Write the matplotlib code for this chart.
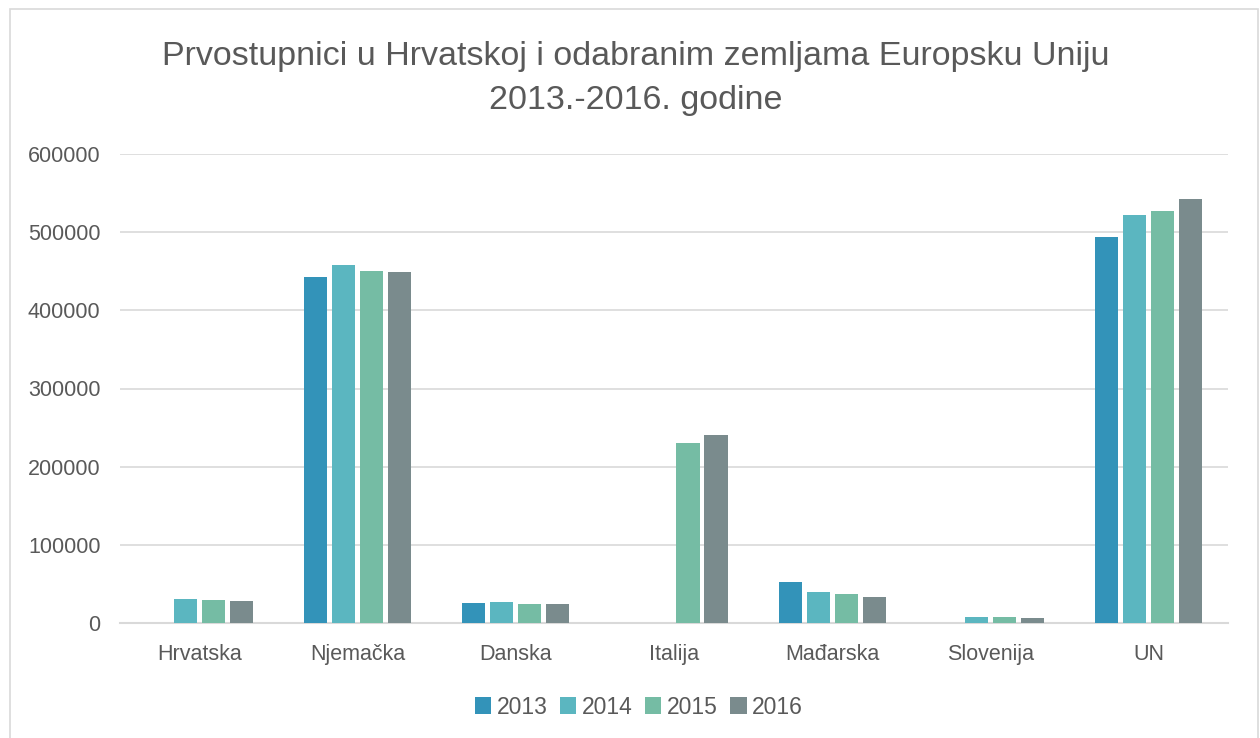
import numpy as np
import matplotlib
matplotlib.use("Agg")
import matplotlib.pyplot as plt
from matplotlib.patches import Rectangle

plt.rcParams['font.family'] = ['Liberation Sans', 'DejaVu Sans']

# Data
countries = ['Hrvatska', 'Njemačka', 'Danska', 'Italija', 'Mađarska', 'Slovenija', 'UN']
years = ['2013', '2014', '2015', '2016']
v2013 = [0, 442500, 25000, 0, 51900, 0, 493700]
v2014 = [30700, 457800, 26900, 0, 39100, 8300, 521900]
v2015 = [29400, 450200, 24600, 229900, 36500, 7900, 527000]
v2016 = [28100, 448500, 24300, 240100, 33900, 7000, 542400]
series = [v2013, v2014, v2015, v2016]
colors = ['#3393B9', '#5BB6C0', '#75BCA4', '#7A8B8D']

text_col = '#595959'
grid_col = '#D9D9D9'

fig = plt.figure(figsize=(12.6, 7.38), dpi=100)
ax = fig.add_axes([120 / 1260, 115 / 738, 1108 / 1260, 469 / 738])

# chart border
fig.patches.append(Rectangle((10 / 1260, -0.05), 1248 / 1260, 0.05 + 729 / 738,
                             transform=fig.transFigure, fill=False,
                             edgecolor='#D9D9D9', linewidth=1.2))

x = np.arange(len(countries))
step = 0.177
width = 0.146
for i, (vals, c, yr) in enumerate(zip(series, colors, years)):
    ax.bar(x + (i - 1.5) * step, vals, width, color=c, label=yr, zorder=3)

ax.set_xlim(-0.5, len(countries) - 0.5)
ax.set_ylim(0, 600000)
ax.set_yticks(np.arange(0, 600001, 100000))
ax.set_xticks(x)
ax.set_xticklabels(countries)
ax.tick_params(axis='both', length=0, labelsize=15.5, colors=text_col)
ax.tick_params(axis='y', pad=14)
ax.tick_params(axis='x', pad=15)

ax.grid(axis='y', color=grid_col, linewidth=1.2, zorder=0)
for s in ['top', 'right', 'left']:
    ax.spines[s].set_visible(False)
ax.spines['bottom'].set_color(grid_col)
ax.spines['bottom'].set_linewidth(1.5)

fig.text(636 / 1260, 1 - 57 / 738, 'Prvostupnici u Hrvatskoj i odabranim zemljama Europsku Uniju',
         ha='center', va='center', fontsize=24.5, color=text_col)
fig.text(636 / 1260, 1 - 101 / 738, '2013.-2016. godine',
         ha='center', va='center', fontsize=24.5, color=text_col)

fig.legend(loc='center', bbox_to_anchor=(639 / 1260, 1 - 707 / 738), ncol=4,
           frameon=False, fontsize=16.5, handlelength=0.7, handleheight=0.7,
           handletextpad=0.25, columnspacing=0.55, labelcolor=text_col)

fig.savefig('out.png', dpi=100)
